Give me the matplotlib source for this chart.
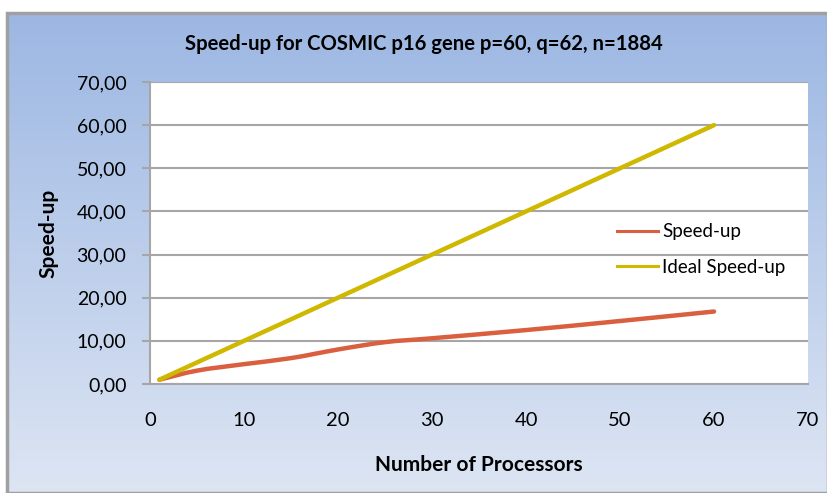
import numpy as np
import matplotlib.pyplot as plt
from matplotlib.patches import Rectangle, PathPatch
from matplotlib.path import Path
from matplotlib.lines import Line2D

# data
procs = [1, 5, 10, 15, 20, 25, 30, 40, 50, 60]
speedup = [1.0, 3.1, 4.6, 6.0, 8.0, 9.7, 10.6, 12.5, 14.6, 16.8]
ideal = [1, 5, 10, 15, 20, 25, 30, 40, 50, 60]

plt.rcParams['font.family'] = ['Lato', 'DejaVu Sans']

RED = '#d95f3e'
YEL = '#cfb800'


def smooth_path(xs, ys):
    # Excel-like smoothed line: cubic bezier through the points (catmull-rom handles)
    pts = np.column_stack([xs, ys]).astype(float)
    verts = [pts[0]]
    codes = [Path.MOVETO]
    n = len(pts)
    for i in range(n - 1):
        p0 = pts[i - 1] if i > 0 else pts[i]
        p1 = pts[i]
        p2 = pts[i + 1]
        p3 = pts[i + 2] if i + 2 < n else pts[i + 1]
        c1 = p1 + (p2 - p0) / 6.0
        c2 = p2 - (p3 - p1) / 6.0
        verts += [c1, c2, p2]
        codes += [Path.CURVE4] * 3
    return Path(verts, codes)


fig = plt.figure(figsize=(8.28, 4.93), dpi=100)
fig.patch.set_facecolor('white')

# blue gradient chart background with grey border
bg = fig.add_axes([0.0085, 0.0, 0.9915, 0.9736])
grad = np.linspace(0, 1, 256).reshape(-1, 1)
top = np.array([0.612, 0.718, 0.890])
bot = np.array([0.866, 0.898, 0.953])
img = top[None, None, :] * (1 - grad[:, :, None]) + bot[None, None, :] * grad[:, :, None]
bg.imshow(img, aspect='auto', extent=[0, 1, 0, 1])
bg.set_xlim(0, 1)
bg.set_ylim(0, 1)
bg.axis('off')
bg.add_patch(Rectangle((0, 0), 1, 1, transform=bg.transAxes, fill=False,
                       edgecolor='#a0a0a0', linewidth=2.5, clip_on=False))

ax = fig.add_axes([0.1812, 0.2211, 0.7947, 0.6126])
ax.set_facecolor('white')

ax.add_patch(PathPatch(smooth_path(procs, speedup), fill=False, edgecolor=RED,
                       linewidth=3.2, capstyle='round', joinstyle='round', zorder=3))
ax.add_patch(PathPatch(smooth_path(procs, ideal), fill=False, edgecolor=YEL,
                       linewidth=3.2, capstyle='round', joinstyle='round', zorder=3))

ax.set_xlim(0, 70)
ax.set_ylim(0, 70)
ax.set_xticks(range(0, 71, 10))
ax.set_yticks(range(0, 71, 10))
ax.set_yticklabels([f"{v},00" for v in range(0, 71, 10)])
ax.grid(axis='y', color='#a6a6a6', linewidth=1.5)
ax.set_axisbelow(True)

for s in ['top', 'right']:
    ax.spines[s].set_visible(False)
for s in ['left', 'bottom']:
    ax.spines[s].set_color('#a6a6a6')
    ax.spines[s].set_linewidth(1.5)

ax.tick_params(axis='y', length=6, width=1.5, color='#a6a6a6', labelsize=14, pad=11)
ax.tick_params(axis='x', length=0, labelsize=14.5, pad=20)

ax.set_xlabel('Number of Processors', fontsize=15, fontweight='bold', labelpad=19)
ax.set_ylabel('Speed-up', fontsize=15, fontweight='bold', labelpad=13)

fig.text(0.512, 0.91, 'Speed-up for COSMIC p16 gene p=60, q=62, n=1884',
         ha='center', va='center', fontsize=14.6, fontweight='bold')

handles = [Line2D([], [], color=RED, linewidth=2.2),
           Line2D([], [], color=YEL, linewidth=2.2)]
ax.legend(handles, ['Speed-up', 'Ideal Speed-up'], loc='center left',
          bbox_to_anchor=(0.684, 0.445), frameon=False, fontsize=13.5,
          handlelength=2.2, handletextpad=0.2, labelspacing=1.0)

fig.savefig('out.png', dpi=100)
